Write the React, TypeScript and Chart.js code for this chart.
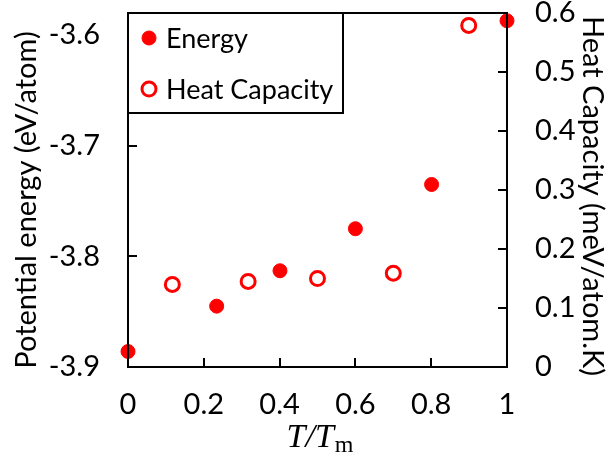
import React, { useEffect, useRef } from "react";
import { Chart, registerables } from "chart.js";

Chart.register(...registerables);

// ---- data ----
const energyLabel = "Energy";
const heatLabel = "Heat Capacity";
const energyT = [0, 0.234, 0.401, 0.6, 0.801, 1.0];
const energyValues = [-3.886, -3.845, -3.813, -3.775, -3.735, -3.587];
const heatT = [0.117, 0.317, 0.5, 0.7, 0.899];
const heatValues = [0.14, 0.145, 0.15, 0.159, 0.579];
const xTicks = [0, 0.2, 0.4, 0.6, 0.8, 1];
const energyTicks = [-3.9, -3.8, -3.7, -3.6];
const heatTicks = [0, 0.1, 0.2, 0.3, 0.4, 0.5, 0.6];
const leftTitle = "Potential energy (eV/atom)";
const rightTitle = "Heat Capacity (meV/atom.K)";
const xTitleMain = "T/T";
const xTitleSub = "m";

const RED = "#ff0000";
const FONT = "Lato";

const decorPlugin = {
  id: "decor",
  afterDatasetsDraw(chart: any) {
    const { ctx, chartArea } = chart;
    const { left, right, top, bottom } = chartArea;
    const xs = chart.scales.x;
    const ys = chart.scales.y;
    const y1 = chart.scales.y1;
    ctx.save();
    ctx.strokeStyle = "#000";
    ctx.lineWidth = 2;
    // inner ticks
    const tl = 9;
    ctx.beginPath();
    xTicks.forEach((v) => {
      const px = Math.round(xs.getPixelForValue(v));
      ctx.moveTo(px, bottom);
      ctx.lineTo(px, bottom - tl);
    });
    energyTicks.forEach((v) => {
      const py = Math.round(ys.getPixelForValue(v));
      ctx.moveTo(left, py);
      ctx.lineTo(left + tl, py);
    });
    heatTicks.forEach((v) => {
      const py = Math.round(y1.getPixelForValue(v));
      ctx.moveTo(right, py);
      ctx.lineTo(right - tl, py);
    });
    ctx.stroke();
    // frame
    ctx.strokeRect(left, top, right - left, bottom - top);

    // legend
    const lx = left;
    const ly = top;
    const lw = 215;
    const lh = 100;
    ctx.fillStyle = "#fff";
    ctx.fillRect(lx, ly, lw, lh);
    ctx.strokeRect(lx, ly, lw, lh);
    const ds = chart.data.datasets;
    const rows = [ly + 25, ly + 76];
    ds.forEach((d: any, i: number) => {
      const cy = rows[i];
      const cx = lx + 21;
      ctx.beginPath();
      ctx.arc(cx, cy, d.pointRadius, 0, Math.PI * 2);
      ctx.fillStyle = d.pointBackgroundColor;
      ctx.fill();
      ctx.lineWidth = d.pointBorderWidth;
      ctx.strokeStyle = d.pointBorderColor;
      ctx.stroke();
      ctx.fillStyle = "#000";
      ctx.font = `27px ${FONT}`;
      ctx.textAlign = "left";
      ctx.textBaseline = "middle";
      ctx.fillText(d.label, lx + 38, cy + 1);
    });

    // axis titles
    ctx.fillStyle = "#000";
    ctx.font = `29px ${FONT}`;
    ctx.textAlign = "center";
    ctx.textBaseline = "middle";
    ctx.save();
    ctx.translate(27, 200);
    ctx.rotate(-Math.PI / 2);
    ctx.fillText(leftTitle, 0, 0);
    ctx.restore();
    ctx.save();
    ctx.translate(592, 196);
    ctx.rotate(Math.PI / 2);
    ctx.fillText(rightTitle, 0, 0);
    ctx.restore();

    // x title
    ctx.textBaseline = "alphabetic";
    ctx.textAlign = "left";
    ctx.font = `italic 34px "Liberation Serif"`;
    const wMain = ctx.measureText(xTitleMain).width;
    ctx.font = `24px "Liberation Serif"`;
    const wSub = ctx.measureText(xTitleSub).width;
    const total = wMain + wSub + 1;
    const cx = 320;
    const base = 447;
    ctx.font = `italic 34px "Liberation Serif"`;
    ctx.fillText(xTitleMain, cx - total / 2, base);
    ctx.font = `24px "Liberation Serif"`;
    ctx.fillText(xTitleSub, cx - total / 2 + wMain + 1, base + 5);
    ctx.restore();
  },
};

export default function App() {
  const ref = useRef<HTMLCanvasElement | null>(null);
  useEffect(() => {
    if (!ref.current) return;
    const chart = new Chart(ref.current, {
      type: "scatter",
      data: {
        datasets: [
          {
            label: energyLabel,
            data: energyT.map((t, i) => ({ x: t, y: energyValues[i] })),
            yAxisID: "y",
            pointRadius: 7,
            pointBorderWidth: 1,
            pointBackgroundColor: RED,
            pointBorderColor: RED,
            backgroundColor: RED,
            borderColor: RED,
            clip: false,
          } as any,
          {
            label: heatLabel,
            data: heatT.map((t, i) => ({ x: t, y: heatValues[i] })),
            yAxisID: "y1",
            pointRadius: 7,
            pointBorderWidth: 3,
            pointBackgroundColor: "#ffffff",
            pointBorderColor: RED,
            backgroundColor: "#ffffff",
            borderColor: RED,
            clip: false,
          } as any,
        ],
      },
      options: {
        responsive: false,
        animation: false,
        layout: { padding: { top: 13, left: 0, right: 0, bottom: 0 } },
        plugins: {
          legend: { display: false },
          tooltip: { enabled: false },
        },
        scales: {
          x: {
            type: "linear",
            min: 0,
            max: 1,
            grid: { display: false, drawTicks: false },
            border: { display: false },
            afterBuildTicks: (s: any) => {
              s.ticks = xTicks.map((v) => ({ value: v }));
            },
            afterFit: (s: any) => {
              s.height = 91;
              s.paddingLeft = 0;
              s.paddingRight = 0;
            },
            ticks: {
              color: "#000",
              font: { family: FONT, size: 29 },
              padding: 20,
              maxRotation: 0,
              autoSkip: false,
              callback: (v: any) => String(Number(Number(v).toFixed(1))),
            },
          },
          y: {
            type: "linear",
            position: "left",
            min: -3.9,
            max: -3.58,
            grid: { display: false, drawTicks: false },
            border: { display: false },
            afterBuildTicks: (s: any) => {
              s.ticks = energyTicks.map((v) => ({ value: v }));
            },
            afterFit: (s: any) => {
              s.width = 128;
              s.paddingTop = 0;
              s.paddingBottom = 0;
            },
            ticks: {
              color: "#000",
              font: { family: FONT, size: 29 },
              padding: 28,
              autoSkip: false,
              callback: (v: any) => Number(v).toFixed(1),
            },
          },
          y1: {
            type: "linear",
            position: "right",
            min: 0,
            max: 0.6,
            grid: { display: false, drawTicks: false },
            border: { display: false },
            afterBuildTicks: (s: any) => {
              s.ticks = heatTicks.map((v) => ({ value: v }));
            },
            afterFit: (s: any) => {
              s.width = 101;
              s.paddingTop = 0;
              s.paddingBottom = 0;
            },
            ticks: {
              color: "#000",
              font: { family: FONT, size: 29 },
              padding: 28,
              autoSkip: false,
              callback: (v: any) => (Number(v) === 0 ? "0" : Number(v).toFixed(1)),
            },
          },
        },
      },
      plugins: [decorPlugin],
    });
    return () => chart.destroy();
  }, []);
  return (
    <div style={{ position: "fixed", left: 0, top: 0, width: 608, height: 458, background: "#fff" }}>
      <canvas ref={ref} width={608} height={458} style={{ display: "block" }} />
    </div>
  );
}
